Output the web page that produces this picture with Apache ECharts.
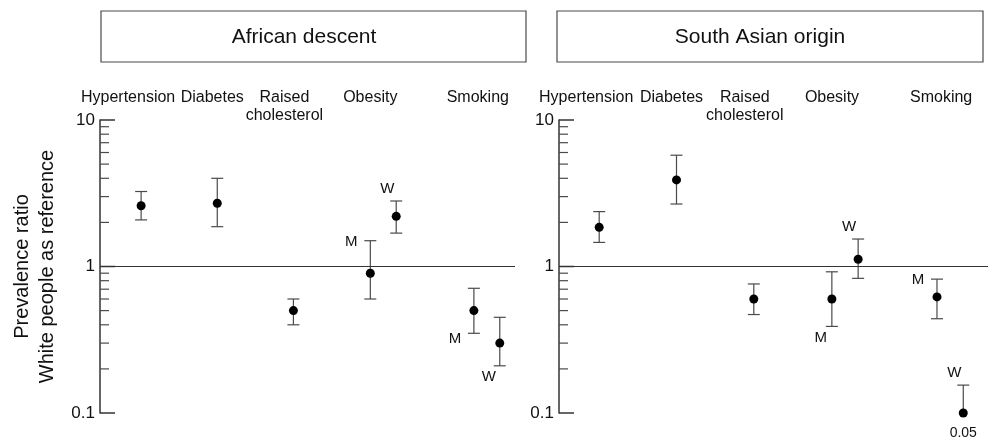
<!DOCTYPE html>
<html><head><meta charset="utf-8">
<script src="https://cdn.jsdelivr.net/npm/echarts@6/dist/echarts.min.js"></script>
<style>html,body{margin:0;padding:0;background:#fff}#c{width:989px;height:438px}</style>
</head><body><div id="c"></div><script>
// ---- data ----
const categories = ['Hypertension', 'Diabetes', 'Raised\ncholesterol', 'Obesity', 'Smoking'];
const panelTitles = ['African descent', 'South Asian origin'];
const yAxisTitle = 'Prevalence ratio\nWhite people as reference';

const afCat   = [0, 1, 2, 3, 3, 4, 4];
const afGroup = ['', '', '', 'M', 'W', 'M', 'W'];
const afRatio = [2.6, 2.7, 0.50, 0.90, 2.2, 0.50, 0.30];
const afLower = [2.08, 1.87, 0.40, 0.60, 1.69, 0.35, 0.21];
const afUpper = [3.25, 4.0, 0.60, 1.50, 2.8, 0.71, 0.45];

const saCat   = [0, 1, 2, 3, 3, 4, 4];
const saGroup = ['', '', '', 'M', 'W', 'M', 'W'];
const saRatio = [1.85, 3.9, 0.60, 0.60, 1.12, 0.62, 0.05];
const saLower = [1.46, 2.67, 0.47, 0.39, 0.83, 0.44, null];
const saUpper = [2.37, 5.75, 0.76, 0.92, 1.54, 0.82, 0.155];

const yMajorTicks = [0.1, 1, 10];
const yMinorTicks = [0.2, 0.3, 0.4, 0.5, 0.6, 0.7, 0.8, 0.9, 2, 3, 4, 5, 6, 7, 8, 9];

// ---- layout / style ----
const FONT = '"Liberation Sans", Arial, Helvetica, sans-serif';
const LINE = '#4a4a4a';
const TEXT = '#111';
const yMin = 0.1, yMax = 10;
const catLabelDx = [-13, -5, -9, -13, -9];
const afLabelPlace = ['', '', '', 'hiLeft', 'hiAbove', 'loLeft', 'loBelow'];
const saLabelPlace = ['', '', '', 'loBelow', 'hiAbove', 'hiLeft', 'hiAbove'];
const labelOffset = {
  hiLeft: [-19, 1, 'hi'], hiAbove: [-9, -12, 'hi'],
  loLeft: [-19, 6, 'lo'], loBelow: [-11, 11, 'lo']
};

function categoryPositions(catIdx) {
  const n = categories.map((_, i) => catIdx.filter(c => c === i).length);
  const pos = [1];
  for (let i = 1; i < n.length; i++) {
    pos[i] = pos[i - 1] + 1 + 0.18 * (n[i - 1] - 1) + 0.18 * (n[i] - 1);
  }
  return pos;
}
function pointX(catIdx, groups) {
  const pos = categoryPositions(catIdx);
  return catIdx.map((c, i) => pos[c] + (groups[i] === 'M' ? -0.17 : groups[i] === 'W' ? 0.17 : 0));
}
const clampY = v => Math.min(Math.max(v, yMin), yMax);

const panels = [
  { cat: afCat, group: afGroup, ratio: afRatio, lower: afLower, upper: afUpper, place: afLabelPlace,
    grid: { left: 100, top: 120, width: 415, height: 293 }, xMin: 0.46, xMax: 5.91 },
  { cat: saCat, group: saGroup, ratio: saRatio, lower: saLower, upper: saUpper, place: saLabelPlace,
    grid: { left: 559, top: 120, width: 429, height: 293 }, xMin: 0.48, xMax: 6.03 }
];

const grids = [], xAxes = [], yAxes = [], series = [];
panels.forEach((p, k) => {
  const xs = pointX(p.cat, p.group);
  const catPos = categoryPositions(p.cat);
  grids.push(p.grid);
  xAxes.push({
    type: 'value', gridIndex: k, position: 'top', min: p.xMin, max: p.xMax,
    axisLine: { show: false, onZero: false }, axisTick: { show: false }, splitLine: { show: false },
    axisLabel: { show: false }
  });
  yAxes.push({
    type: 'log', logBase: 10, gridIndex: k, min: yMin, max: yMax,
    axisLine: { show: true, onZero: false, lineStyle: { color: '#333', width: 1.5 } },
    axisTick: { show: false }, splitLine: { show: false }, minorTick: { show: false },
    axisLabel: { fontFamily: FONT, fontSize: 17, color: TEXT, margin: 5,
      showMinLabel: true, showMaxLabel: true,
      formatter: v => String(+v.toPrecision(3)) },
    name: k === 0 ? yAxisTitle : '', nameLocation: 'middle', nameRotate: 90, nameGap: 40,
    nameTextStyle: { fontFamily: FONT, fontSize: 20, color: TEXT, lineHeight: 25, align: 'center' }
  });
  // category labels above the plot, placed through the x scale
  series.push({
    type: 'custom', xAxisIndex: k, yAxisIndex: k, silent: true, z: 3, clip: false,
    data: catPos.map(v => [v, 1]),
    renderItem: (params, api) => {
      const i = params.dataIndex;
      const x = api.coord([api.value(0), 1])[0];
      return { type: 'text', style: { text: categories[i], x: x + catLabelDx[i], y: params.coordSys.y - 31,
        fill: TEXT, font: '16px ' + FONT, lineHeight: 18, align: 'center', verticalAlign: 'top' } };
    }
  });
  // error bars + M/W labels
  series.push({
    type: 'custom', xAxisIndex: k, yAxisIndex: k, silent: true, z: 3,
    data: xs.map((x, i) => [x, p.ratio[i]]),
    renderItem: (params, api) => {
      const i = params.dataIndex, x = xs[i];
      const pm = api.coord([x, clampY(p.ratio[i])]);
      const ch = [], st = { stroke: LINE, lineWidth: 1.2 };
      let pHi = null, pLo = null;
      if (p.upper[i] != null) {
        pHi = api.coord([x, clampY(p.upper[i])]);
        ch.push({ type: 'line', shape: { x1: pm[0], y1: pm[1], x2: pHi[0], y2: pHi[1] }, style: st });
        ch.push({ type: 'line', shape: { x1: pHi[0] - 6, y1: pHi[1], x2: pHi[0] + 6, y2: pHi[1] }, style: st });
      }
      if (p.lower[i] != null) {
        pLo = api.coord([x, clampY(p.lower[i])]);
        ch.push({ type: 'line', shape: { x1: pm[0], y1: pm[1], x2: pLo[0], y2: pLo[1] }, style: st });
        ch.push({ type: 'line', shape: { x1: pLo[0] - 6, y1: pLo[1], x2: pLo[0] + 6, y2: pLo[1] }, style: st });
      }
      const pl = p.place[i];
      if (pl && p.group[i]) {
        const o = labelOffset[pl];
        const ref = o[2] === 'hi' ? pHi : pLo;
        ch.push({ type: 'text', style: { text: p.group[i], x: ref[0] + o[0], y: ref[1] + o[1],
          fill: TEXT, font: '15px ' + FONT, align: 'center', verticalAlign: 'middle' } });
      }
      if (p.ratio[i] < yMin) {
        ch.push({ type: 'text', style: { text: String(p.ratio[i]), x: pm[0], y: pm[1] + 20,
          fill: TEXT, font: '14px ' + FONT, align: 'center', verticalAlign: 'middle' } });
      }
      return { type: 'group', children: ch };
    }
  });
  // points
  series.push({
    type: 'scatter', xAxisIndex: k, yAxisIndex: k, symbol: 'circle', symbolSize: 9, z: 4,
    itemStyle: { color: '#000', opacity: 1 }, silent: true, clip: false,
    data: xs.map((x, i) => [x, clampY(p.ratio[i])]),
    markLine: { silent: true, symbol: 'none', label: { show: false },
      lineStyle: { color: '#333', width: 1.2, type: 'solid' }, data: [{ yAxis: 1 }] }
  });
  // axis ticks (major longer, minor shorter), drawn inward
  series.push({
    type: 'custom', xAxisIndex: k, yAxisIndex: k, silent: true, z: 2,
    data: yMajorTicks.map(v => [1, v, 1]).concat(yMinorTicks.map(v => [1, v, 0])),
    renderItem: (params, api) => {
      const v = api.value(1), major = api.value(2) === 1;
      const y = api.coord([1, v])[1];
      const x0 = params.coordSys.x;
      return { type: 'line', shape: { x1: x0, y1: y, x2: x0 + (major ? 15 : 9), y2: y },
        style: { stroke: major ? '#333' : LINE, lineWidth: major ? 1.5 : 1.2 } };
    }
  });
});

const chart = echarts.init(document.getElementById('c'), null, { renderer: 'canvas' });
chart.setOption({
  animation: false,
  backgroundColor: '#fff',
  textStyle: { fontFamily: FONT },
  graphic: [
    { type: 'rect', shape: { x: 101, y: 11, width: 425, height: 51 }, style: { fill: '#fff', stroke: LINE, lineWidth: 1.2 } },
    { type: 'text', style: { text: panelTitles[0], x: 304, y: 37, fill: TEXT, font: '21px ' + FONT, align: 'center', verticalAlign: 'middle' } },
    { type: 'rect', shape: { x: 557, y: 11, width: 426, height: 51 }, style: { fill: '#fff', stroke: LINE, lineWidth: 1.2 } },
    { type: 'text', style: { text: panelTitles[1], x: 760, y: 37, fill: TEXT, font: '21px ' + FONT, align: 'center', verticalAlign: 'middle' } }
  ],
  grid: grids, xAxis: xAxes, yAxis: yAxes, series: series
});
</script></body></html>
